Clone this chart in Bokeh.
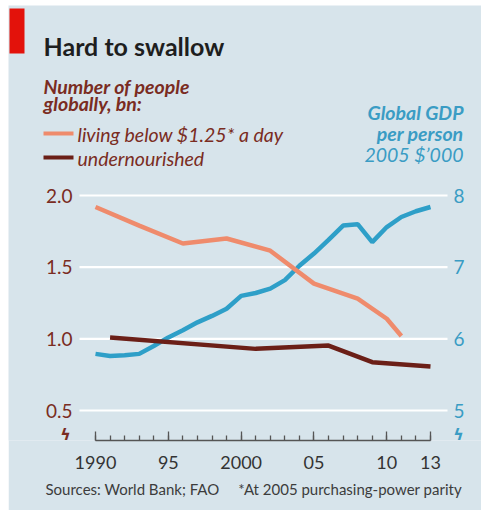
from bokeh.plotting import figure
from bokeh.models import (Range1d, FixedTicker, Label, BoxAnnotation, Title)
from bokeh.embed import file_html
from bokeh.resources import INLINE

# ---- data ----
gdp_years = list(range(1990, 2014))
gdp = [5.79, 5.76, 5.77, 5.79, 5.90, 6.02, 6.12, 6.23, 6.32, 6.42, 6.60, 6.64,
       6.70, 6.82, 7.02, 7.19, 7.38, 7.58, 7.60, 7.35, 7.56, 7.70, 7.78, 7.84]
poverty_years = [1990, 1993, 1996, 1999, 2002, 2005, 2008, 2010, 2011]
poverty = [1.92, 1.79, 1.665, 1.70, 1.615, 1.385, 1.28, 1.14, 1.02]
under_years = [1991, 2001, 2006, 2009, 2013]
under = [1.01, 0.93, 0.953, 0.837, 0.807]

left_ticks = [0.5, 1.0, 1.5, 2.0]
left_labels = ["0.5", "1.0", "1.5", "2.0"]
right_ticks = [5, 6, 7, 8]
right_labels = ["5", "6", "7", "8"]
x_ticks = [1990, 1995, 2000, 2005, 2010, 2013]
x_labels = {1990: "1990", 1995: "95", 2000: "2000", 2005: "05", 2010: "10", 2013: "13"}

BG = "#d7e4eb"
ORANGE = "#ef8b6c"
BROWN = "#6b1f17"
BLUE = "#2e9fc8"
TXT_BROWN = "#7a2c22"
TXT_BLUE = "#3a9cc4"
FONT = "Lato"

# ---- geometry (page pixels) ----
TOP, LEFT = 5, 8           # figure placed at page (8, 5)
W, H = 473, 505
PX_YEAR = 14.565           # px per year
PX_UNIT = 143.33           # px per left-axis unit
X_1990 = 95                # page x of 1990
Y_AXIS = 440               # page y of frame bottom (x axis)
Y_05 = 410                 # page y of 0.5 gridline
FB = H - (Y_AXIS - TOP)    # below-frame panel: x axis + source line

x0 = 1990 - (X_1990 - LEFT) / PX_YEAR
x1 = x0 + W / PX_YEAR
y0 = 0.5 - (Y_AXIS - Y_05) / PX_UNIT
y1 = y0 + (Y_AXIS - TOP) / PX_UNIT
GRID_X0 = x0 + (79 - LEFT) / PX_YEAR
GRID_X1 = x0 + (447 - LEFT) / PX_YEAR

p = figure(width=W, height=H, output_backend="svg", toolbar_location=None,
           x_range=Range1d(x0, x1), y_range=Range1d(y0, y1),
           y_axis_type=None,
           min_border_left=0, min_border_right=0, min_border_top=0,
           min_border_bottom=FB, margin=(TOP, 0, 0, LEFT))
p.background_fill_color = BG
p.border_fill_color = BG
p.outline_line_color = None
p.grid.visible = False
p.extra_y_ranges = {"gdp": Range1d(5 + (y0 - 0.5) * 2, 5 + (y1 - 0.5) * 2)}

# x axis
p.xaxis.ticker = FixedTicker(ticks=x_ticks, minor_ticks=list(range(1990, 2014)))
p.xaxis.major_label_overrides = x_labels
p.xaxis.bounds = (1990, 2013)
p.xaxis.axis_line_color = "#555555"
p.xaxis.axis_line_width = 1.5
p.xaxis.major_tick_line_color = "#555555"
p.xaxis.minor_tick_line_color = "#555555"
p.xaxis.major_tick_line_width = 1.3
p.xaxis.minor_tick_line_width = 1.3
p.xaxis.major_tick_in = 9
p.xaxis.major_tick_out = 0
p.xaxis.minor_tick_in = 5
p.xaxis.minor_tick_out = 0
p.xaxis.major_label_standoff = 15
p.xaxis.major_label_text_font = FONT
p.xaxis.major_label_text_font_size = "18px"
p.xaxis.major_label_text_color = "#333333"

# source line below the axis
p.add_layout(Title(text="Sources: World Bank; FAO" + "\u00a0" * 5 + "*At 2005 purchasing-power parity",
                   align="left", offset=37, text_font=FONT, text_font_size="15px",
                   text_font_style="normal", text_color="#3c3c3c", standoff=12), "below")

# gridlines (white, between the two value scales)
p.segment(x0=[GRID_X0] * len(left_ticks), x1=[GRID_X1] * len(left_ticks),
          y0=left_ticks, y1=left_ticks, line_color="white", line_width=2.2)

# helpers: page px -> frame screen units (frame origin bottom-left at page (8, 440))
def sx(px):
    return px - LEFT

def sy(py):
    return Y_AXIS - py

def lab(txt, px, py, size, color, style="normal", align="left", base="alphabetic",
        angle=0, font=FONT, y_data=None, yr=None):
    kw = dict(x=sx(px), x_units="screen", text=txt, text_font=font,
              text_font_size=size, text_color=color, text_font_style=style,
              text_align=align, text_baseline=base, angle=angle)
    if y_data is None:
        kw.update(y=sy(py), y_units="screen")
    else:
        kw.update(y=y_data)
        if yr:
            kw.update(y_range_name=yr)
    p.add_layout(Label(**kw))

def box(l, r, t, b, color):
    p.add_layout(BoxAnnotation(left=sx(l), right=sx(r), top=sy(t), bottom=sy(b),
                               left_units="screen", right_units="screen",
                               top_units="screen", bottom_units="screen",
                               fill_color=color, fill_alpha=1, line_color=None))

# value-axis labels
for t, s in zip(left_ticks, left_labels):
    lab(s, 72, None, "19px", TXT_BROWN, align="right", base="middle", y_data=t)
for t, s in zip(right_ticks, right_labels):
    lab(s, 453, None, "19px", TXT_BLUE, align="left", base="middle", y_data=t, yr="gdp")
# axis-break marks
lab("\u03df", 65, 434, "16px", TXT_BROWN, "bold", align="center", base="middle", font="DejaVu Sans")
lab("\u03df", 458, 434, "16px", TXT_BLUE, "bold", align="center", base="middle", font="DejaVu Sans")

# lines
p.line(gdp_years, gdp, y_range_name="gdp", line_color=BLUE, line_width=4.5)
p.line(poverty_years, poverty, line_color=ORANGE, line_width=4.5)
p.line(under_years, under, line_color=BROWN, line_width=4.5)

# header
box(9, 24, 8, 53, "#e3120b")
lab("Hard to swallow", 43, 45, "25px", "#1e1e1e", "bold")
lab("Number of people", 43, 86, "19.5px", TXT_BROWN, "bold italic")
lab("globally, bn:", 43, 103, "19.5px", TXT_BROWN, "bold italic")
box(43, 73, 131, 135, ORANGE)
lab("living below $1.25* a day", 77, 134, "19.5px", TXT_BROWN, "italic")
box(43, 73, 155, 159, BROWN)
lab("undernourished", 77, 158, "19.5px", TXT_BROWN, "italic")
lab("Global GDP", 463, 112, "19.5px", TXT_BLUE, "bold italic", align="right")
lab("per person", 463, 133, "19.5px", TXT_BLUE, "bold italic", align="right")
lab("2005 $\u2019000", 463, 154, "19.5px", TXT_BLUE, "italic", align="right")

open("out.html", "w").write(file_html(p, INLINE))
